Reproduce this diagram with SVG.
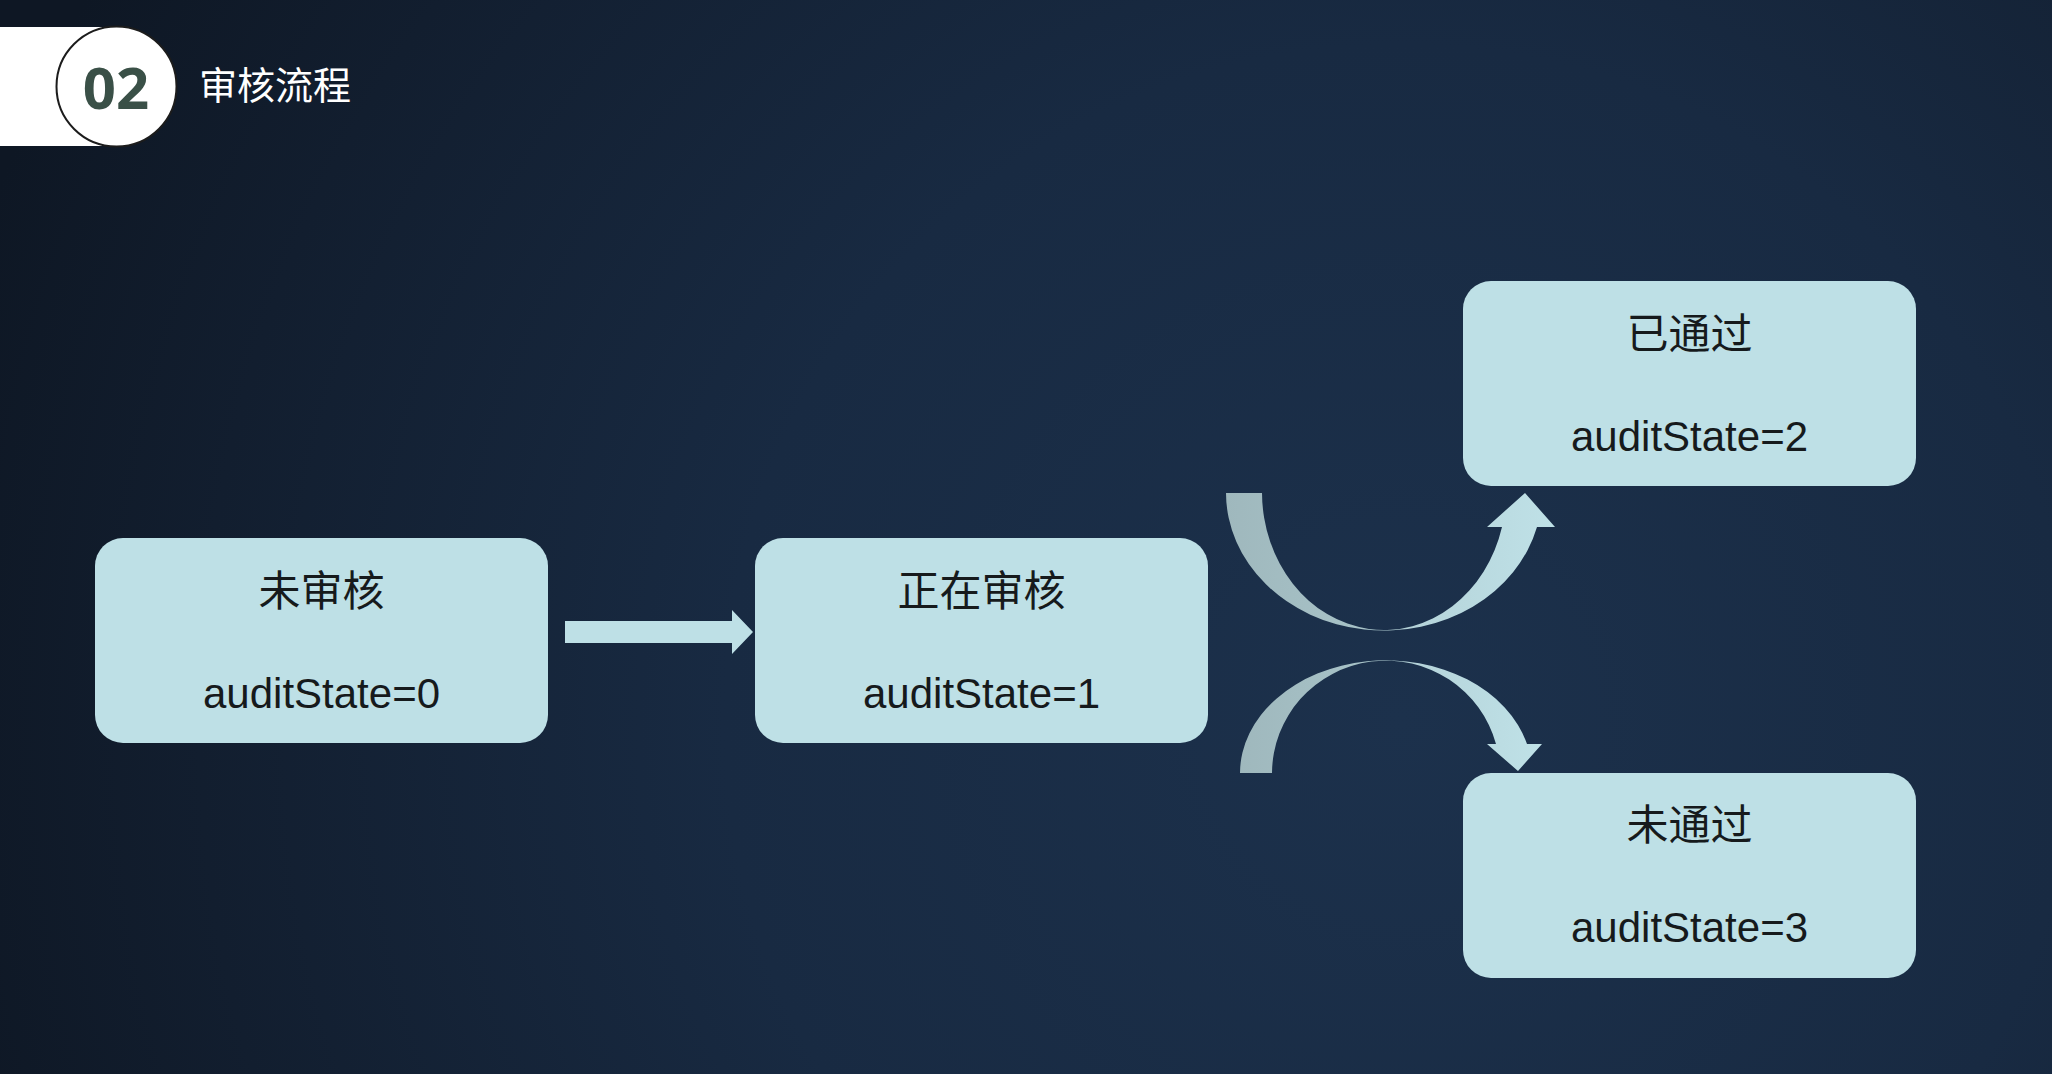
<svg xmlns="http://www.w3.org/2000/svg" width="2052" height="1074" viewBox="0 0 2052 1074">
  <defs>
    <radialGradient id="bg" cx="1400" cy="720" r="1500" gradientUnits="userSpaceOnUse">
      <stop offset="0" stop-color="#1c314c"/>
      <stop offset="0.45" stop-color="#182a42"/>
      <stop offset="0.8" stop-color="#121e2f"/>
      <stop offset="1" stop-color="#0e1724"/>
    </radialGradient>
    <linearGradient id="curveUp" x1="1226" y1="0" x2="1555" y2="0" gradientUnits="userSpaceOnUse">
      <stop offset="0" stop-color="#9fb8bd"/>
      <stop offset="0.4" stop-color="#a7c2c7"/>
      <stop offset="0.6" stop-color="#b6d5db"/>
      <stop offset="1" stop-color="#bfe1e7"/>
    </linearGradient>
    <linearGradient id="curveDown" x1="1240" y1="0" x2="1542" y2="0" gradientUnits="userSpaceOnUse">
      <stop offset="0" stop-color="#9fb8bd"/>
      <stop offset="0.4" stop-color="#a7c2c7"/>
      <stop offset="0.6" stop-color="#b6d5db"/>
      <stop offset="1" stop-color="#bfe1e7"/>
    </linearGradient>
  </defs>
  <style>
    .box { fill: #bee0e6; }
    .title { font-family: "Liberation Sans", "Noto Sans CJK SC", sans-serif; font-size: 42px; fill: #161a1c; text-anchor: middle; }
    .value { font-family: "Liberation Sans", "Noto Sans CJK SC", sans-serif; font-size: 42px; fill: #161a1c; text-anchor: middle; }
  </style>

  <rect x="0" y="0" width="2052" height="1074" fill="url(#bg)"/>

  <g id="header">
    <rect x="0" y="27" width="116" height="119" fill="#ffffff"/>
    <circle cx="116.5" cy="86.5" r="60" fill="#ffffff" stroke="#1c1c1c" stroke-width="2"/>
    <text x="116" y="109" font-family="Open Sans, Liberation Sans, sans-serif" font-weight="700" font-size="58" fill="#3a5047" text-anchor="middle">02</text>
    <text x="199" y="99" font-family="Noto Sans CJK SC, sans-serif" font-size="38" fill="#ffffff">审核流程</text>
  </g>

  <g id="connectors">
    <path d="M565,621 L732,621 L732,610 L753,632 L732,654 L732,643 L565,643 Z" fill="#bee0e6"/>
    <path d="M1226,493 A158,138 0 0 0 1537,527 L1555,527 L1525,493 L1487,527 L1502,527 A122,138 0 0 1 1262,493 Z" fill="url(#curveUp)"/>
    <path d="M1240,773 A146,113 0 0 1 1527,744 L1542,744 L1518,771 L1487,744 L1496,744 A114,113 0 0 0 1272,773 Z" fill="url(#curveDown)"/>
  </g>

  <g id="node-unaudited">
    <rect class="box" x="95" y="538" width="453" height="205" rx="28"/>
    <text class="title" x="321.5" y="606">未审核</text>
    <text class="value" x="321.5" y="708">auditState=0</text>
  </g>

  <g id="node-auditing">
    <rect class="box" x="755" y="538" width="453" height="205" rx="28"/>
    <text class="title" x="981.5" y="606">正在审核</text>
    <text class="value" x="981.5" y="708">auditState=1</text>
  </g>

  <g id="node-passed">
    <rect class="box" x="1463" y="281" width="453" height="205" rx="28"/>
    <text class="title" x="1689.5" y="349">已通过</text>
    <text class="value" x="1689.5" y="451">auditState=2</text>
  </g>

  <g id="node-rejected">
    <rect class="box" x="1463" y="773" width="453" height="205" rx="28"/>
    <text class="title" x="1689.5" y="840">未通过</text>
    <text class="value" x="1689.5" y="942">auditState=3</text>
  </g>
</svg>
